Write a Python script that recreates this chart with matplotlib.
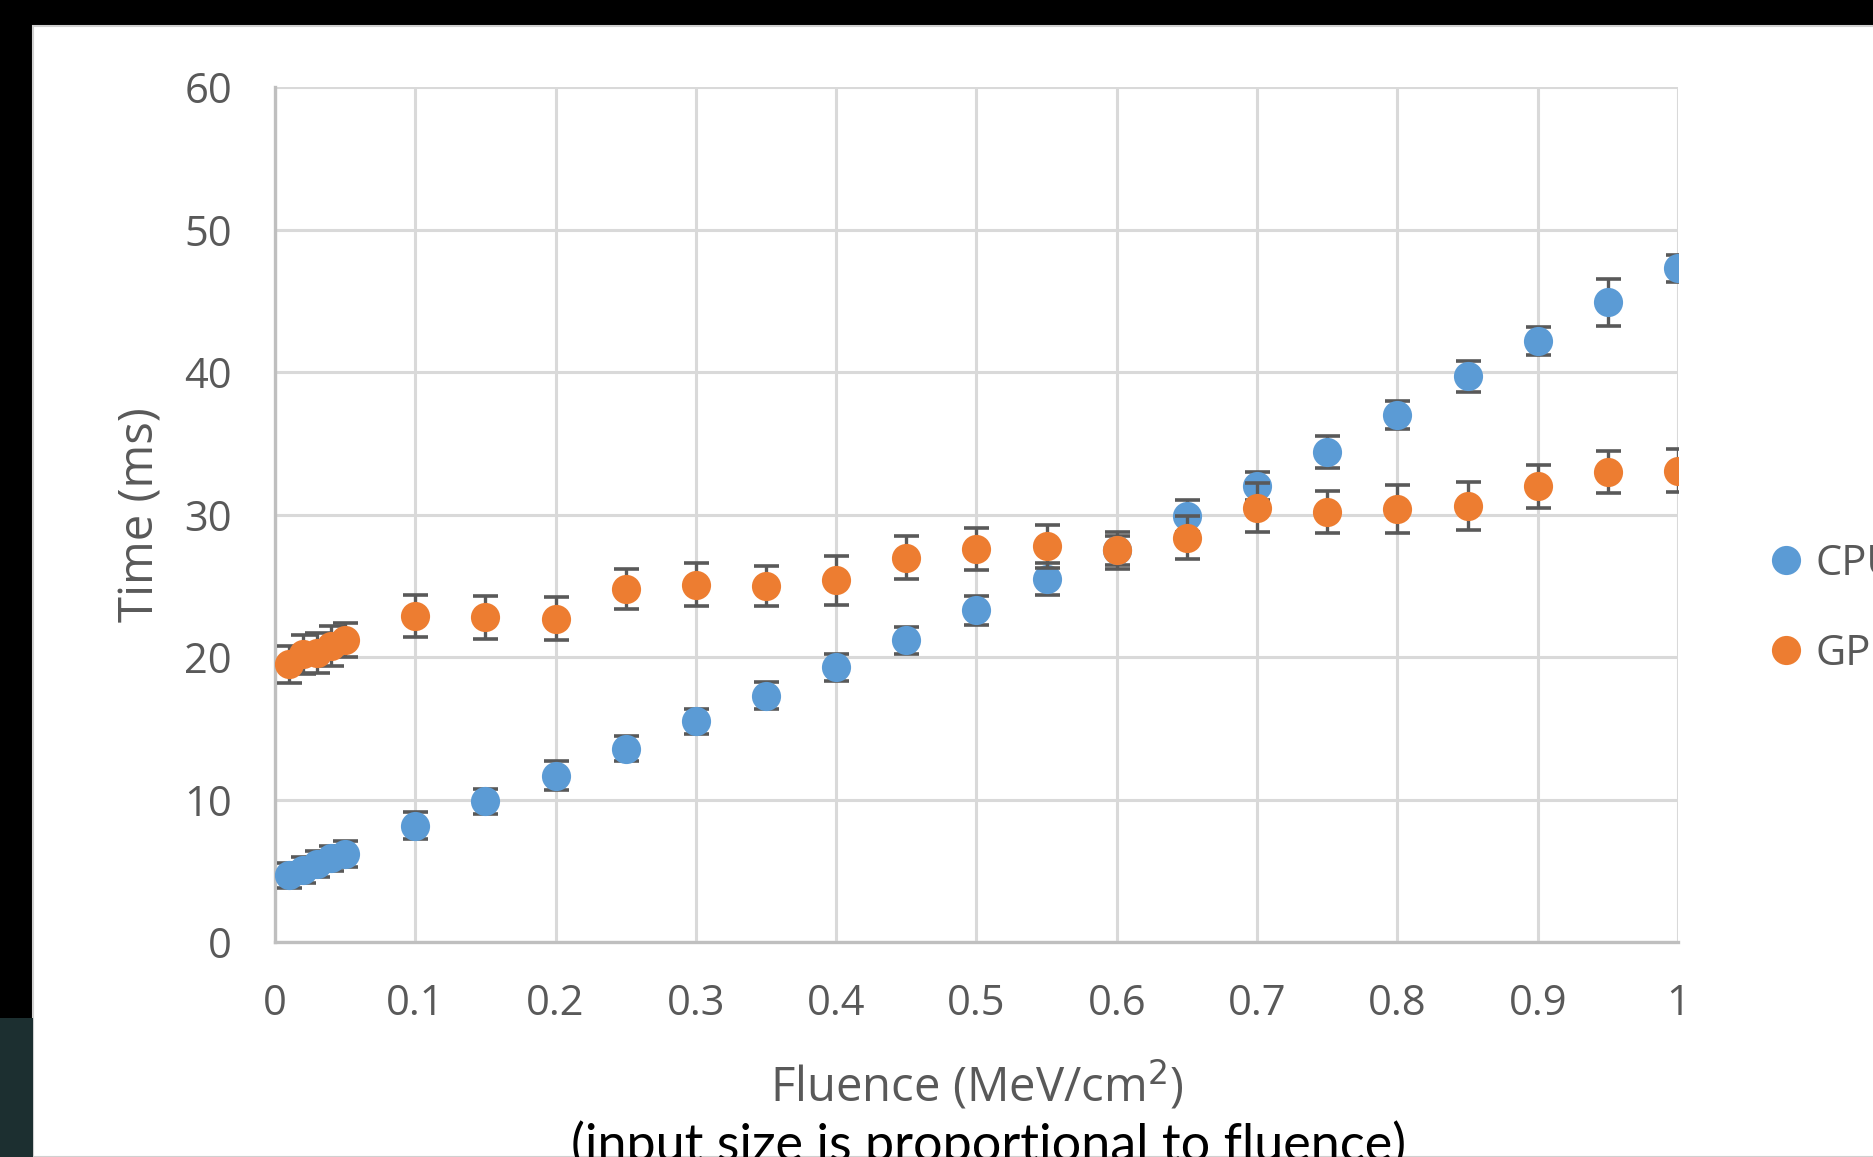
import matplotlib
matplotlib.use("Agg")
import matplotlib.pyplot as plt
from matplotlib.patches import Rectangle

# Data
fluence = [0.01, 0.02, 0.03, 0.04, 0.05, 0.1, 0.15, 0.2, 0.25, 0.3, 0.35, 0.4,
           0.45, 0.5, 0.55, 0.6, 0.65, 0.7, 0.75, 0.8, 0.85, 0.9, 0.95, 1.0]
cpu_ms = [4.7, 5.1, 5.5, 5.9, 6.2, 8.2, 9.9, 11.7, 13.6, 15.5, 17.3, 19.3,
          21.2, 23.3, 25.5, 27.5, 29.9, 32.0, 34.4, 37.0, 39.7, 42.2, 44.9, 47.3]
cpu_err = [0.85, 0.9, 0.9, 0.9, 0.9, 0.95, 0.9, 1.0, 0.9, 0.9, 0.95, 0.95,
           0.95, 1.0, 1.1, 1.0, 1.1, 1.0, 1.1, 1.0, 1.1, 1.0, 1.65, 0.95]
gpu_ms = [19.5, 20.2, 20.3, 20.8, 21.2, 22.9, 22.8, 22.7, 24.8, 25.1, 25.0, 25.4,
          27.0, 27.6, 27.8, 27.5, 28.4, 30.5, 30.2, 30.4, 30.6, 32.0, 33.0, 33.1]
gpu_err = [1.3, 1.4, 1.4, 1.4, 1.2, 1.5, 1.5, 1.5, 1.4, 1.5, 1.4, 1.7,
           1.5, 1.5, 1.5, 1.3, 1.5, 1.7, 1.5, 1.7, 1.7, 1.5, 1.5, 1.5]
x_ticks = [0, 0.1, 0.2, 0.3, 0.4, 0.5, 0.6, 0.7, 0.8, 0.9, 1]
x_tick_labels = ["0", "0.1", "0.2", "0.3", "0.4", "0.5", "0.6", "0.7", "0.8", "0.9", "1"]
y_ticks = [0, 10, 20, 30, 40, 50, 60]

plt.rcParams["font.family"] = ["Open Sans", "DejaVu Sans"]
text_gray = "#595959"

fig = plt.figure(figsize=(18.73, 11.57), dpi=100, facecolor="black")

# white slide panel with dark surround (screenshot look)
fig.patches.append(Rectangle((0.0176, 0), 1.0, 0.9775, transform=fig.transFigure,
                             facecolor="white", edgecolor="#d0d0d0", lw=1.5, zorder=-10))
fig.patches.append(Rectangle((0, 0), 0.0176, 0.12, transform=fig.transFigure,
                             facecolor="#1c2f30", edgecolor="none", zorder=-10))

ax = fig.add_axes([0.1468, 0.1854, 0.7491, 0.7394])

# error bars sit under the markers, as in the original
err_style = dict(fmt="none", ecolor="#595959", elinewidth=2.4, capsize=9, capthick=2.6)
ax.errorbar(fluence, cpu_ms, yerr=cpu_err, zorder=3, **err_style)
cpu_line, = ax.plot(fluence, cpu_ms, "o", ls="none", color="#5B9BD5", markersize=21,
                    markeredgewidth=0, zorder=4, label="CPU")
ax.errorbar(fluence, gpu_ms, yerr=gpu_err, zorder=5, **err_style)
gpu_line, = ax.plot(fluence, gpu_ms, "o", ls="none", color="#ED7D31", markersize=21,
                    markeredgewidth=0, zorder=6, label="GPU")

ax.set_xlim(0, 1)
ax.set_ylim(0, 60)
ax.set_xticks(x_ticks)
ax.set_xticklabels(x_tick_labels)
ax.set_yticks(y_ticks)
ax.tick_params(length=0, labelsize=30, labelcolor=text_gray)
ax.tick_params(axis="y", pad=31)
ax.tick_params(axis="x", pad=29)

ax.grid(True, color="#D9D9D9", linewidth=2.2)
ax.set_axisbelow(True)
for side in ["top", "right"]:
    ax.spines[side].set_visible(False)
for side in ["left", "bottom"]:
    ax.spines[side].set_color("#BFBFBF")
    ax.spines[side].set_linewidth(2.4)

ax.set_ylabel("Time (ms)", fontsize=34, color=text_gray)
ax.yaxis.label.set_va("center")
ax.yaxis.set_label_coords(-0.096, 0.5)
ax.set_xlabel("Fluence (MeV/cm$^2$)", fontsize=34, color=text_gray)
ax.xaxis.label.set_va("center")
ax.xaxis.set_label_coords(0.5, -0.166)

fig.text(0.5277, 0.032, "(input size is proportional to fluence)", ha="center", va="top",
         fontsize=37.5, color="black", family=["Lato", "DejaVu Sans"])

ax.legend(handles=[cpu_line, gpu_line], loc="center left", bbox_to_anchor=(0.9426, 0.474),
          bbox_transform=fig.transFigure, frameon=False, fontsize=30, labelcolor=text_gray,
          handlelength=1.0, handletextpad=0.2, labelspacing=1.15, borderpad=0,
          borderaxespad=0, markerscale=1.0)

fig.savefig("out.png", dpi=100, facecolor=fig.get_facecolor())
